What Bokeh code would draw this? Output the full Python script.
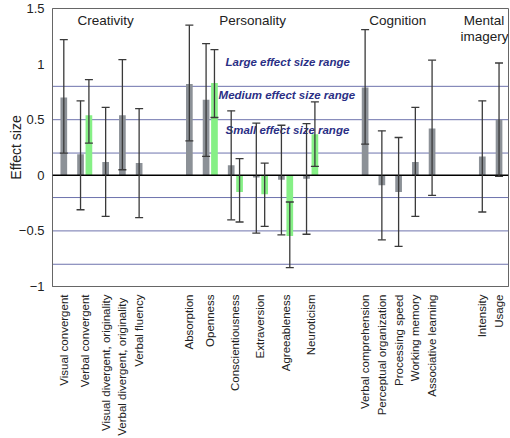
import math
from bokeh.plotting import figure
from bokeh.models import (Range1d, FixedTicker, ColumnDataSource, Whisker, TeeHead,
                          Span, Label)
from bokeh.embed import file_html
from bokeh.resources import INLINE

# ---------------- data ----------------
categories = ["Visual convergent", "Verbal convergent", "Visual divergent, originality",
              "Verbal divergent,  originality", "Verbal fluency",
              "Absorption", "Openness", "Conscientiousness", "Extraversion",
              "Agreeableness", "Neuroticism",
              "Verbal comprehension", "Perceptual organization", "Processing speed",
              "Working memory", "Associative learning",
              "Intensity", "Usage"]
groups = (["Creativity"] * 5 + ["Personality"] * 6 + ["Cognition"] * 5
          + ["Mental imagery"] * 2)

grey_es = [0.70, 0.19, 0.12, 0.54, 0.11,
           0.82, 0.68, 0.09, -0.02, -0.04, -0.03,
           0.79, -0.09, -0.15, 0.12, 0.42,
           0.17, 0.50]
grey_lo = [0.20, -0.31, -0.37, 0.05, -0.38,
           0.31, 0.17, -0.40, -0.52, -0.535, -0.53,
           0.28, -0.58, -0.64, -0.37, -0.18,
           -0.33, -0.01]
grey_hi = [1.22, 0.67, 0.61, 1.04, 0.60,
           1.35, 1.185, 0.58, 0.47, 0.45, 0.465,
           1.31, 0.40, 0.34, 0.61, 1.035,
           0.67, 1.01]

green_es = [None, 0.54, None, None, None,
            None, 0.83, -0.15, -0.17, -0.545, 0.37,
            None, None, None, None, None,
            None, None]
green_lo = [None, 0.29, None, None, None,
            None, 0.52, -0.42, -0.46, -0.83, 0.08,
            None, None, None, None, None,
            None, None]
green_hi = [None, 0.86, None, None, None,
            None, 1.13, 0.15, 0.11, -0.24, 0.66,
            None, None, None, None, None,
            None, None]

y_ticks = [-1, -0.5, 0, 0.5, 1, 1.5]
y_tick_labels = ["\u22121", "\u22120.5", "0", "0.5", "1", "1.5"]
range_lines = [0.8, 0.5, 0.2, -0.2, -0.5, -0.8]

# ---------------- layout of slots (computed from data order) ----------------
GROUP_GAP = 4
grey_x, green_x, label_x = [], [], []
pos = 1
prev = groups[0]
for i, g in enumerate(groups):
    if g != prev:
        pos += GROUP_GAP
        prev = g
    grey_x.append(pos)
    if green_es[i] is not None:
        green_x.append(pos + 1)
        label_x.append(pos + 0.5)
        pos += 3
    else:
        green_x.append(None)
        label_x.append(pos)
        pos += 2

grey_src = ColumnDataSource(dict(x=grey_x, top=grey_es, lo=grey_lo, hi=grey_hi))
gi = [i for i in range(len(categories)) if green_es[i] is not None]
green_src = ColumnDataSource(dict(x=[green_x[i] for i in gi],
                                  top=[green_es[i] for i in gi],
                                  lo=[green_lo[i] for i in gi],
                                  hi=[green_hi[i] for i in gi]))

FONT = "Liberation Sans"
AXIS_COL = "#666666"

p = figure(width=510, height=438, x_range=Range1d(-0.35, 54.13),
           y_range=Range1d(-1, 1.5), output_backend="svg", toolbar_location=None,
           min_border_left=52, min_border_right=2, min_border_top=8,
           min_border_bottom=150)
p.grid.visible = False
p.outline_line_color = AXIS_COL
p.outline_line_width = 1
p.background_fill_color = "white"
p.border_fill_color = "white"

for v in range_lines:
    p.add_layout(Span(location=v, dimension="width", line_color="#6e73ad",
                      line_width=1, level="underlay"))

# range labels
for txt, yv, xv in [("Large effect size range", 1.02, 20.32),
                    ("Medium effect size range", 0.72, 19.49),
                    ("Small effect size range", 0.41, 20.32)]:
    p.add_layout(Label(x=xv, y=yv, text=txt, text_align="left", text_baseline="middle",
                       text_font=FONT, text_font_style="bold italic",
                       text_font_size="11.5px", text_color="#2b2f85", level="underlay"))

BAR_W = 0.8
p.vbar(x="x", top="top", bottom=0, width=BAR_W, source=grey_src,
       fill_color="#8c9197", line_color=None)
p.vbar(x="x", top="top", bottom=0, width=BAR_W, source=green_src,
       fill_color="#86f086", line_color=None)

p.add_layout(Span(location=0, dimension="width", line_color="black",
                  line_width=1.5, level="annotation"))

for src in (grey_src, green_src):
    w = Whisker(base="x", lower="lo", upper="hi", source=src, dimension="height",
                line_color="#3a3a3a", line_width=1.3, level="annotation",
                upper_head=TeeHead(size=8, line_color="#3a3a3a", line_width=1.3),
                lower_head=TeeHead(size=8, line_color="#3a3a3a", line_width=1.3))
    p.add_layout(w)

# group titles
for txt, xv, yv in [("Creativity", 6.0, 1.39), ("Personality", 23.55, 1.39),
                    ("Cognition", 40.9, 1.39), ("Mental", 51.2, 1.39),
                    ("imagery", 51.25, 1.25)]:
    p.add_layout(Label(x=xv, y=yv, text=txt, text_align="center", text_baseline="middle",
                       text_font=FONT, text_font_size="13.5px", text_color="#222222"))

# axes
yax = p.yaxis[0]
yax.ticker = FixedTicker(ticks=y_ticks)
yax.major_label_overrides = {t: l for t, l in zip(y_ticks, y_tick_labels)}
yax.major_label_text_font = FONT
yax.major_label_text_font_size = "13px"
yax.major_label_text_color = "#222222"
yax.major_label_standoff = 8
yax.major_tick_line_color = None
yax.minor_tick_line_color = None
yax.major_tick_in = 0
yax.major_tick_out = 0
yax.minor_tick_in = 0
yax.minor_tick_out = 0
yax.axis_line_color = AXIS_COL
yax.axis_label = "Effect size"
yax.axis_label_text_font = FONT
yax.axis_label_text_font_size = "14px"
yax.axis_label_text_font_style = "normal"
yax.axis_label_text_color = "#222222"
yax.axis_label_standoff = -8

xax = p.xaxis[0]
xax.ticker = FixedTicker(ticks=label_x)
xax.major_label_overrides = {x: c for x, c in zip(label_x, categories)}
xax.major_label_orientation = math.pi / 2
xax.major_label_text_font = FONT
xax.major_label_text_font_size = "11.5px"
xax.major_label_text_color = "#222222"
xax.major_label_standoff = 8
xax.major_tick_line_color = None
xax.minor_tick_line_color = None
xax.major_tick_in = 0
xax.major_tick_out = 0
xax.minor_tick_in = 0
xax.minor_tick_out = 0
xax.axis_line_color = AXIS_COL

open("out.html", "w").write(file_html(p, INLINE))
